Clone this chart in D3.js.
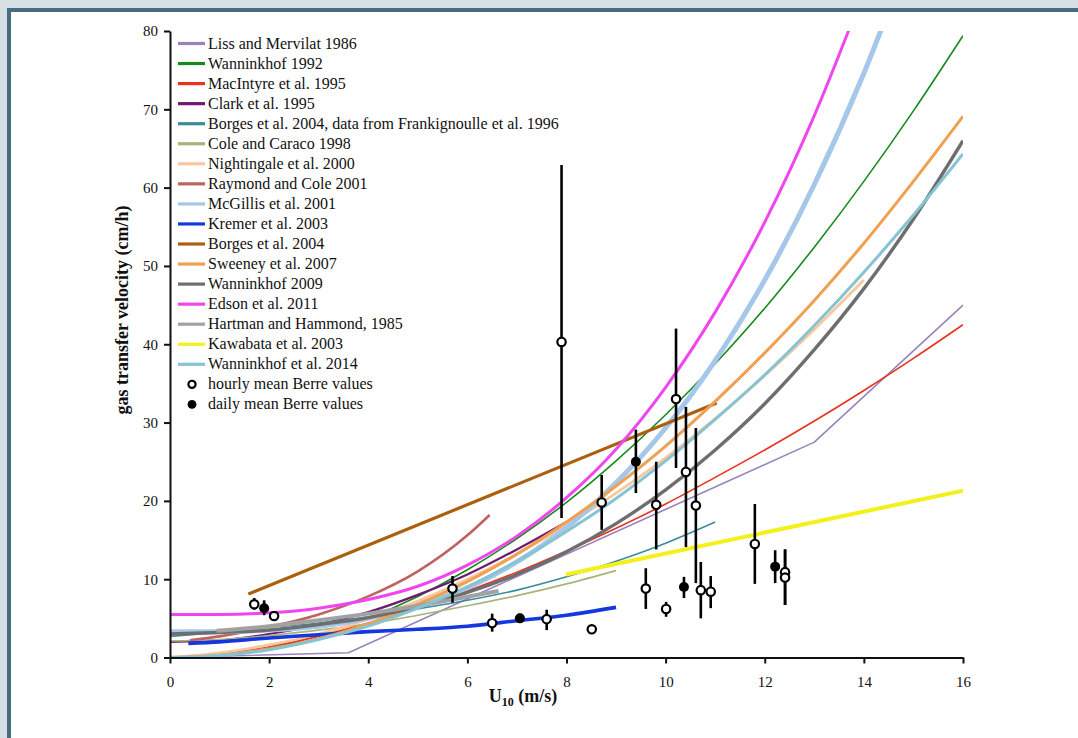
<!DOCTYPE html>
<html>
<head>
<meta charset="utf-8">
<script src="https://cdn.jsdelivr.net/npm/d3@7"></script>
<style>
  html, body { margin: 0; padding: 0; background: #d6dfe5; }
  svg { display: block; }
  text { font-family: "Liberation Serif", "Times New Roman", serif; fill: #111; }
</style>
</head>
<body>
<svg id="chart" width="1078" height="738"></svg>
<script>
// ---- wind speed grids (m/s) ----
const uGrid16 = [0, 1, 2, 3, 4, 5, 6, 7, 8, 9, 10, 11, 12, 13, 14, 15, 16];

// ---- gas transfer velocity curves (cm/h) ----
const lissU = [0, 3.6, 13, 16];
const lissK = [0, 0.6, 27.5, 45.0];

const wanninkhof1992K = [0, 0.3, 1.2, 2.8, 5.0, 7.8, 11.2, 15.2, 19.8, 25.1, 31.0, 37.5, 44.6, 52.4, 60.8, 69.8, 79.4];

const macintyreK = [0, 0.45, 1.4, 2.7, 4.4, 6.3, 8.5, 10.9, 13.6, 16.5, 19.6, 23.0, 26.5, 30.2, 34.1, 38.2, 42.5];

const clarkU = [0, 1, 2, 3, 4, 5, 6, 7, 8];
const clarkK = [2.0, 2.2, 3.0, 4.2, 5.8, 8.0, 10.6, 13.8, 17.3];

const frankignoulleU = [0, 1, 2, 3, 4, 5, 6, 7, 8, 9, 10, 11];
const frankignoulleK = [2.7, 3.2, 3.8, 4.4, 5.2, 6.2, 7.3, 8.6, 10.3, 12.3, 14.6, 17.3];

const coleCaracoU = [0, 1, 2, 3, 4, 5, 6, 7, 8, 9];
const coleCaracoK = [2.1, 2.3, 2.8, 3.5, 4.3, 5.4, 6.6, 7.9, 9.4, 11.1];

const nightingaleU = [0, 1, 2, 3, 4, 5, 6, 7, 8, 9, 10, 11, 12, 13, 14];
const nightingaleK = [0, 0.6, 1.6, 3.0, 4.9, 7.2, 10.0, 13.2, 16.9, 21.0, 25.5, 30.5, 36.0, 41.9, 48.2];

const raymondColeU = [0.4, 1, 2, 3, 4, 5, 6, 6.45];
const raymondColeK = [2.2, 2.7, 3.9, 5.5, 7.8, 11.0, 15.6, 18.2];

const mcgillisU = [0, 1, 2, 3, 4, 5, 6, 7, 8, 9, 10, 11, 12, 13, 14, 15];
const mcgillisK = [3.3, 3.3, 3.5, 4.0, 5.0, 6.6, 8.9, 12.2, 16.6, 22.3, 29.3, 37.9, 48.2, 60.4, 74.6, 91.1];

const kremerU = [0.37, 1, 2, 3, 4, 5, 6, 7, 8, 9];
const kremerK = [1.8, 2.0, 2.5, 2.9, 3.3, 3.6, 4.0, 4.7, 5.4, 6.4];

const borgesU = [1.58, 11.03];
const borgesK = [8.1, 32.5];

const sweeneyK = [0, 0.3, 1.1, 2.4, 4.3, 6.8, 9.7, 13.2, 17.3, 21.9, 27.0, 32.7, 38.9, 45.6, 52.9, 60.8, 69.1];

const wanninkhof2009K = [3.0, 3.2, 3.5, 4.2, 5.1, 6.5, 8.3, 10.6, 13.5, 17.1, 21.4, 26.5, 32.4, 39.3, 47.1, 56.0, 66.0];

const edsonU = [0, 1, 2, 3, 4, 5, 6, 7, 8, 9, 10, 11, 12, 13, 14];
const edsonK = [5.5, 5.5, 5.7, 6.3, 7.4, 9.1, 11.8, 15.5, 20.4, 26.6, 34.5, 44.1, 55.6, 69.2, 85.1];

const hartmanU = [0.94, 2, 3, 4, 5, 6, 6.63];
const hartmanK = [3.4, 4.0, 4.75, 5.6, 6.6, 7.75, 8.5];

const kawabataU = [7.99, 16];
const kawabataK = [10.6, 21.3];

const wanninkhof2014K = [0, 0.25, 1.0, 2.3, 4.0, 6.3, 9.0, 12.3, 16.1, 20.3, 25.1, 30.4, 36.1, 42.4, 49.2, 56.5, 64.3];

// ---- measured Berre values: mean, lower and upper bar ends ----
const hourlyU  = [1.70, 2.10, 5.70, 6.50, 7.60, 7.90, 8.51, 8.71, 9.60, 9.81, 10.01, 10.21, 10.41, 10.61, 10.71, 10.91, 11.80, 12.41, 12.41];
const hourlyK  = [6.8, 5.3, 8.8, 4.4, 4.9, 40.3, 3.6, 19.8, 8.8, 19.5, 6.2, 33.0, 23.7, 19.4, 8.6, 8.4, 14.5, 10.9, 10.2];
const hourlyLo = [6.1, 4.9, 7.0, 3.3, 3.5, 17.8, 3.3, 16.3, 6.2, 13.8, 5.2, 24.2, 14.1, 9.5, 5.0, 6.3, 9.4, 6.7, 6.7];
const hourlyHi = [7.6, 5.8, 10.4, 5.6, 6.1, 62.9, 4.0, 23.3, 11.4, 25.0, 7.1, 42.0, 32.0, 29.3, 12.2, 10.4, 19.6, 13.8, 13.8];

const dailyU  = [1.90, 7.06, 9.40, 10.37, 12.21];
const dailyK  = [6.3, 5.0, 25.0, 9.0, 11.6];
const dailyLo = [5.4, 4.4, 21.0, 7.6, 9.5];
const dailyHi = [7.3, 5.6, 29.1, 10.3, 13.7];

// ---- axis ticks ----
const xTicks = [0, 2, 4, 6, 8, 10, 12, 14, 16];
const yTicks = [0, 10, 20, 30, 40, 50, 60, 70, 80];

// ---- series table with drawing styles ----
const series = [
  { name: "Liss and Mervilat 1986", u: lissU, k: lissK, color: "#9a83bd", width: 1.6, linear: true },
  { name: "Wanninkhof 1992", u: uGrid16, k: wanninkhof1992K, color: "#178a1c", width: 1.6 },
  { name: "MacIntyre et al. 1995", u: uGrid16, k: macintyreK, color: "#e8331f", width: 1.6 },
  { name: "Clark et al. 1995", u: clarkU, k: clarkK, color: "#6d1a70", width: 2.2 },
  { name: "Borges et al. 2004, data from Frankignoulle et al. 1996", u: frankignoulleU, k: frankignoulleK, color: "#3a8c9c", width: 1.6 },
  { name: "Cole and Caraco 1998", u: coleCaracoU, k: coleCaracoK, color: "#a9b37a", width: 1.6 },
  { name: "Nightingale et al. 2000", u: nightingaleU, k: nightingaleK, color: "#f7c7a0", width: 2.8 },
  { name: "Raymond and Cole 2001", u: raymondColeU, k: raymondColeK, color: "#be6262", width: 2.6 },
  { name: "McGillis et al. 2001", u: mcgillisU, k: mcgillisK, color: "#a5c7ea", width: 5 },
  { name: "Kremer et al. 2003", u: kremerU, k: kremerK, color: "#1537e0", width: 3.6 },
  { name: "Borges et al. 2004", u: borgesU, k: borgesK, color: "#ad5f10", width: 3.2, linear: true },
  { name: "Sweeney et al. 2007", u: uGrid16, k: sweeneyK, color: "#f0a051", width: 3 },
  { name: "Wanninkhof 2009", u: uGrid16, k: wanninkhof2009K, color: "#6e6e6e", width: 3.4 },
  { name: "Edson et al. 2011", u: edsonU, k: edsonK, color: "#f046ef", width: 3 },
  { name: "Hartman and Hammond, 1985", u: hartmanU, k: hartmanK, color: "#a2a2a2", width: 4 },
  { name: "Kawabata et al. 2003", u: kawabataU, k: kawabataK, color: "#f4f01c", width: 4 },
  { name: "Wanninkhof et al. 2014", u: uGrid16, k: wanninkhof2014K, color: "#86c3d3", width: 3 }
];

const svg = d3.select("#chart");

// panel frame
svg.append("rect").attr("x", 0).attr("y", 0).attr("width", 1078).attr("height", 738).attr("fill", "#d6dfe5");
svg.append("rect").attr("x", 9).attr("y", 10).attr("width", 1090).attr("height", 760)
  .attr("fill", "#ffffff").attr("stroke", "#466c80").attr("stroke-width", 4);

const x = d3.scaleLinear().domain([0, 16]).range([170, 963]);
const y = d3.scaleLinear().domain([0, 80]).range([657.5, 31]);

svg.append("defs").append("clipPath").attr("id", "plot-clip")
  .append("rect").attr("x", x(0)).attr("y", y(80)).attr("width", x(16) - x(0)).attr("height", y(0) - y(80));

// curves
const smooth = d3.line().x(d => x(d[0])).y(d => y(d[1])).curve(d3.curveMonotoneX);
const straight = d3.line().x(d => x(d[0])).y(d => y(d[1]));

const curveLayer = svg.append("g").attr("clip-path", "url(#plot-clip)");
series.forEach(s => {
  const pts = s.u.map((u, i) => [u, s.k[i]]);
  curveLayer.append("path")
    .attr("d", (s.linear ? straight : smooth)(pts))
    .attr("fill", "none")
    .attr("stroke", s.color)
    .attr("stroke-width", s.width)
    .attr("stroke-linejoin", "round");
});

// error bars
const bars = svg.append("g").attr("stroke", "#000").attr("stroke-width", 2.6);
hourlyU.forEach((u, i) => {
  bars.append("line").attr("x1", x(u)).attr("x2", x(u)).attr("y1", y(hourlyLo[i])).attr("y2", y(hourlyHi[i]));
});
dailyU.forEach((u, i) => {
  bars.append("line").attr("x1", x(u)).attr("x2", x(u)).attr("y1", y(dailyLo[i])).attr("y2", y(dailyHi[i]));
});

// mean markers
svg.append("g").selectAll("circle").data(hourlyU).join("circle")
  .attr("cx", d => x(d)).attr("cy", (d, i) => y(hourlyK[i])).attr("r", 4.2)
  .attr("fill", "#fff").attr("stroke", "#000").attr("stroke-width", 2.2);
svg.append("g").selectAll("circle").data(dailyU).join("circle")
  .attr("cx", d => x(d)).attr("cy", (d, i) => y(dailyK[i])).attr("r", 5)
  .attr("fill", "#000");

// axes
const xAxis = svg.append("g").attr("transform", `translate(0,${y(0)})`)
  .call(d3.axisBottom(x).tickValues(xTicks).tickSize(6).tickSizeOuter(0).tickPadding(13).tickFormat(d3.format("d")));
const yAxis = svg.append("g").attr("transform", `translate(${x(0)},0)`)
  .call(d3.axisLeft(y).tickValues(yTicks).tickSize(6).tickSizeOuter(0).tickPadding(6).tickFormat(d3.format("d")));
[xAxis, yAxis].forEach(a => {
  a.select(".domain").attr("stroke", "#111").attr("stroke-width", 2);
  a.selectAll(".tick line").attr("stroke", "#111").attr("stroke-width", 2);
  a.selectAll(".tick text").attr("font-size", 15).attr("fill", "#111")
    .attr("font-family", "'Liberation Serif', 'Times New Roman', serif");
});

// axis titles
const xTitle = svg.append("text").attr("x", 523).attr("y", 702).attr("text-anchor", "middle")
  .attr("font-size", 18).attr("font-weight", "bold");
xTitle.append("tspan").text("U");
xTitle.append("tspan").attr("font-size", 12).attr("dy", 4).text("10");
xTitle.append("tspan").attr("dy", -4).text(" (m/s)");

svg.append("text").attr("transform", "translate(128,310) rotate(-90)")
  .attr("text-anchor", "middle").attr("font-size", 18).attr("font-weight", "bold")
  .text("gas transfer velocity (cm/h)");

// legend
const legend = svg.append("g");
const rowY = i => 43.5 + 20.05 * i;
series.forEach((s, i) => {
  legend.append("line").attr("x1", 178).attr("x2", 205).attr("y1", rowY(i)).attr("y2", rowY(i))
    .attr("stroke", s.color).attr("stroke-width", 3.2);
  legend.append("text").attr("x", 208).attr("y", rowY(i) + 5).attr("font-size", 16).text(s.name);
});
const nSeries = series.length;
legend.append("circle").attr("cx", 192).attr("cy", rowY(nSeries)).attr("r", 3.6)
  .attr("fill", "#fff").attr("stroke", "#000").attr("stroke-width", 2.2);
legend.append("text").attr("x", 208).attr("y", rowY(nSeries) + 5).attr("font-size", 16).text("hourly mean Berre values");
legend.append("circle").attr("cx", 192).attr("cy", rowY(nSeries + 1)).attr("r", 4.4).attr("fill", "#000");
legend.append("text").attr("x", 208).attr("y", rowY(nSeries + 1) + 5).attr("font-size", 16).text("daily mean Berre values");
</script>
</body>
</html>
